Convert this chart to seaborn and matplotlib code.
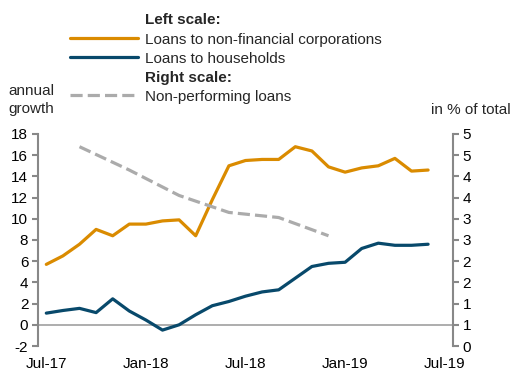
import matplotlib
matplotlib.use("Agg")
import matplotlib.pyplot as plt
from matplotlib.lines import Line2D
import numpy as np
import pandas as pd
import seaborn as sns

# monthly, Jul-17 .. Jun-19
months = pd.date_range("2017-07-01", "2019-06-01", freq="MS")
nfc_loans = [5.7, 6.5, 7.6, 9.0, 8.4, 9.5, 9.5, 9.8, 9.9, 8.4, 11.8, 15.0,
             15.5, 15.6, 15.6, 16.8, 16.4, 14.9, 14.4, 14.8, 15.0, 15.7, 14.5, 14.6]
household_loans = [1.1, 1.35, 1.55, 1.15, 2.45, 1.3, 0.45, -0.5, 0.0, 0.95, 1.8, 2.2,
                   2.7, 3.1, 3.3, 4.4, 5.5, 5.8, 5.9, 7.2, 7.7, 7.5, 7.5, 7.6]
# quarterly, Sep-17 .. Dec-18
npl_months = pd.to_datetime(["2017-09-01", "2017-12-01", "2018-03-01",
                             "2018-06-01", "2018-09-01", "2018-12-01"])
npl_share = [4.7, 4.15, 3.55, 3.15, 3.03, 2.6]

x_tick_labels = ["Jul-17", "Jan-18", "Jul-18", "Jan-19", "Jul-19"]
left_ticks = list(range(-2, 19, 2))
right_ticks = [i * 0.5 for i in range(11)]
right_tick_labels = ["0", "1", "1", "2", "2", "3", "3", "4", "4", "5", "5"]

ORANGE = "#DA8B00"
BLUE = "#08496B"
GREY = "#ABABAB"
AXIS = "#888888"
FS = 11
DASH = [3.8, 1.6]

sns.set_theme(style="white")
plt.rcParams["font.family"] = ["Liberation Sans", "DejaVu Sans"]
plt.rcParams["font.size"] = FS


def month_index(dates):
    start = months[0]
    return [(d.year - start.year) * 12 + d.month - start.month for d in dates]


df = pd.DataFrame({"m": month_index(months), "nfc": nfc_loans, "hh": household_loans})
npl_df = pd.DataFrame({"m": month_index(npl_months), "npl": npl_share})

fig = plt.figure(figsize=(5.13, 3.72), dpi=100)
ax = fig.add_axes([38 / 513, 1 - 346 / 372, (453 - 38) / 513, (346 - 134) / 372])
ax2 = ax.twinx()

ax.axhline(0, color="#A0A0A0", lw=1.2, zorder=1)
sns.lineplot(data=df, x="m", y="nfc", ax=ax, color=ORANGE, lw=2.3, zorder=3)
sns.lineplot(data=df, x="m", y="hh", ax=ax, color=BLUE, lw=2.3, zorder=3)
sns.lineplot(data=npl_df, x="m", y="npl", ax=ax2, color=GREY, lw=2.3,
             dashes=False, zorder=2)
ax2.lines[-1].set_dashes(DASH)
ax2.lines[-1].set_dash_capstyle("butt")

ax.set_xlim(-0.5, 24.5)
ax.set_ylim(-2, 18)
ax2.set_ylim(0, 5)
ax.set_yticks(left_ticks)
ax.set_yticklabels([str(t) for t in left_ticks])
ax2.set_yticks(right_ticks)
ax2.set_yticklabels(right_tick_labels)
ax.set_xticks([0, 6, 12, 18, 24])
ax.set_xticklabels(x_tick_labels)
ax.set_xlabel("")
ax.set_ylabel("")
ax2.set_ylabel("")

for a in (ax, ax2):
    for s in ("top", "bottom"):
        a.spines[s].set_visible(False)
    a.spines["left"].set_visible(a is ax)
    a.spines["right"].set_visible(a is ax2)
    for s in ("left", "right"):
        a.spines[s].set_color(AXIS)
        a.spines[s].set_linewidth(1.5)
    a.tick_params(axis="y", length=4, width=1.5, color=AXIS, labelsize=FS, pad=3,
                  labelcolor="black")
ax.tick_params(axis="y", left=True, direction="out")
ax2.tick_params(axis="y", right=True, direction="out")
ax.tick_params(axis="x", length=0, pad=8, labelsize=FS, labelcolor="black")
ax.grid(False)
ax2.grid(False)

handles = [
    Line2D([], [], color="none"),
    Line2D([], [], color=ORANGE, lw=2.3),
    Line2D([], [], color=BLUE, lw=2.3),
    Line2D([], [], color="none"),
    Line2D([], [], color=GREY, lw=2.3, dashes=DASH, dash_capstyle="butt"),
]
labels = ["Left scale:", "Loans to non-financial corporations", "Loans to households",
          "Right scale:", "Non-performing loans"]
leg = fig.legend(handles, labels, loc="upper left", bbox_to_anchor=(70 / 513, 1 - 13.5 / 372),
                 frameon=False, fontsize=FS, handlelength=4.45, handletextpad=0.46,
                 labelspacing=0.33, borderpad=0, borderaxespad=0)
for i in (0, 3):
    leg.get_texts()[i].set_fontweight("bold")

fig.text(31 / 513, 1 - 100 / 372, "annual\ngrowth", fontsize=FS, va="center", ha="center",
         multialignment="center", linespacing=1.3)
fig.text(511 / 513, 1 - 110 / 372, "in % of total", fontsize=FS, va="center", ha="right")

fig.savefig("out.png", dpi=100)
